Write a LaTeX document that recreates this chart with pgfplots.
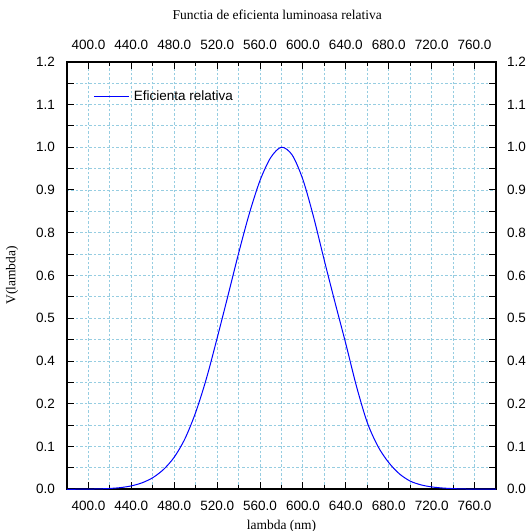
\documentclass[border=0pt]{standalone}
\usepackage{fontspec}
\setmainfont{Liberation Sans}
\newfontfamily\seriffont{Liberation Serif}
\usepackage{pgfplots}
\usepackage{pgfplotstable}
\pgfplotsset{compat=1.18}
\definecolor{gridblue}{RGB}{150,205,225}
\definecolor{curveblue}{RGB}{0,0,255}

\pgfplotstableread{
lam V
380 0.0000
390 0.0002
400 0.0006
410 0.0012
420 0.0025
430 0.0050
440 0.0100
450 0.0190
460 0.0340
470 0.0580
480 0.0940
490 0.1480
500 0.2250
510 0.3240
520 0.4420
530 0.5650
540 0.6900
550 0.8060
560 0.9030
570 0.9700
580 1.0000
590 0.9770
600 0.9050
610 0.7950
620 0.6680
630 0.5450
640 0.4250
650 0.3000
660 0.1950
670 0.1250
680 0.0780
690 0.0450
700 0.0240
710 0.0130
720 0.0070
730 0.0038
740 0.0020
750 0.0010
760 0.0005
770 0.0003
780 0.0002
}\vdata

\newcommand{\fs}{\fontsize{13.5}{16}\selectfont}

\begin{document}
\fs
\begin{tikzpicture}[font=\fs]
\path[use as bounding box] (0,0) rectangle (526pt,531pt);
\pgfplotsset{commonaxis/.style={
  scale only axis, width=429pt, height=427.6pt,
  at={(67pt,41.7pt)}, anchor=south west,
  xmin=380, xmax=780, ymin=0, ymax=1.25,
  xtick={400,440,480,520,560,600,640,680,720,760},
  xticklabels={400.0,440.0,480.0,520.0,560.0,600.0,640.0,680.0,720.0,760.0},
  minor xtick={420,460,500,540,580,620,660,700,740},
  ytick={0,0.0625,0.125,0.1875,0.25,0.3125,0.375,0.4375,0.5,0.5625,0.625,0.6875,0.75,0.8125,0.875,0.9375,1,1.0625,1.125,1.1875,1.25},
  yticklabels={0.0,{},0.1,{},0.2,{},0.4,{},0.5,{},0.6,{},0.8,{},0.9,{},1.0,{},1.1,{},1.2},
  tick label style={font=\fs},
  xticklabel shift=7.5pt,
  major tick length=7pt, minor tick length=4.5pt,
  tick align=inside,
}}
\begin{axis}[commonaxis,
  axis line style={black, line width=2pt},
  tick style={black, line width=1pt},
  tick pos=both,
  xticklabel pos=lower, yticklabel pos=left,
  yticklabel shift=7.5pt,
  grid=both,
  major grid style={gridblue, dash pattern=on 2.5pt off 2pt, line width=0.9pt},
  minor grid style={gridblue, dash pattern=on 2.5pt off 2pt, line width=0.9pt},
  title={\seriffont\fs Functia de eficienta luminoasa relativa},
  every axis title/.style={at={(axis description cs:0.49,1.11)}, anchor=center},
  xlabel={\seriffont\fs lambda (nm)},
  ylabel={\seriffont\fs V(lambda)},
  xlabel style={at={(axis description cs:0.5,-0.0865)}, anchor=center},
  ylabel style={at={(axis description cs:-0.128,0.5)}, anchor=center},
  legend style={draw=none, fill=none, font=\fs, at={(axis description cs:0.062,0.918)}, anchor=west, inner sep=0pt},
  legend cell align=left,
  legend image code/.code={\draw[#1] (0pt,0pt) -- (35pt,0pt); \path (37pt,0pt);},
]
\addplot[curveblue, line width=1pt, smooth] table[x=lam, y=V] {\vdata};
\addlegendentry{Eficienta relativa}
\end{axis}
\begin{axis}[commonaxis,
  axis line style={draw=none},
  tick style={draw=none},
  xticklabel pos=upper, yticklabel pos=right,
  yticklabel shift=6.3pt,
]
\addplot[draw=none] coordinates {(380,0) (780,1.25)};
\end{axis}
\end{tikzpicture}
\end{document}
